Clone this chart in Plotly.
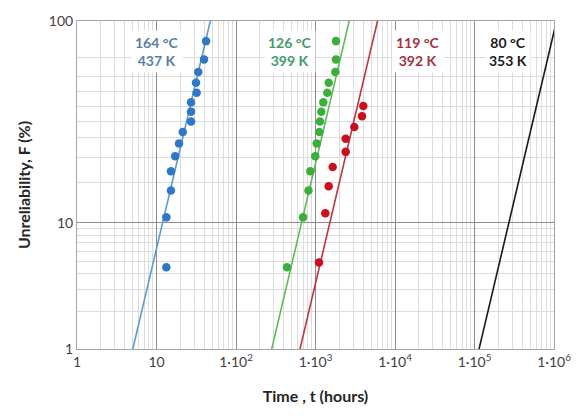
import numpy as np
import plotly.graph_objects as go

# ---- data ----
F_blue = [4.5, 11.0, 17.5, 24.0, 30.5, 37.0, 43.5, 50.0, 56.5, 63.0, 69.5, 76.0, 82.5, 89.0, 95.5]
t_blue = [13.3, 13.3, 15.2, 15.2, 17.2, 19.2, 21.4, 27.2, 27.2, 27.2, 32.0, 31.4, 33.5, 39.6, 42.0]

F_green = [4.5, 11.0, 17.5, 24.0, 30.5, 37.0, 43.5, 50.0, 56.5, 63.0, 69.5, 76.0, 82.5, 89.0, 95.5]
t_green = [438, 697, 816, 860, 994, 1036, 1117, 1140, 1183, 1253, 1407, 1467, 1774, 1811, 1811]

F_red = [4.9, 11.8, 18.8, 25.7, 32.6, 39.6, 46.5, 53.5, 60.4]
t_red = [1107, 1328, 1466, 1645, 2397, 2397, 3077, 3846, 3995]

# Weibull fit lines (shape beta, scale eta in hours)
beta_fit = [2.72, 2.72, 2.72, 2.72]
eta_fit = [27.3, 1526, 3464, 6.19e5]

labels_c = ["164 °C", "126 °C", "119 °C", "80 °C"]
labels_k = ["437 K", "399 K", "392 K", "353 K"]

x_ticks = [1, 10, 100, 1e3, 1e4, 1e5, 1e6]
x_ticktext = ["1", "10", "1·10<sup>2</sup>", "1·10<sup>3</sup>", "1·10<sup>4</sup>",
              "1·10<sup>5</sup>", "1·10<sup>6</sup>"]
y_major = [1, 10, 98.9]
y_ticktext = ["1", "10", "100"]
y_minor = [2, 3, 4, 5, 6, 7, 8, 9, 20, 30, 40, 50, 60, 70, 80, 90]

pt_colors = ["#2f78c8", "#3cae3c", "#c8101e"]
line_colors = ["#5b9bd5", "#5cba5c", "#c0343f", "#1a1a1a"]
label_colors = ["#5a7ea8", "#3f9a6c", "#a5303c", "#1a1a1a"]
label_xpix = [157, 289.5, 418, 508]


def wb(F):
    F = np.asarray(F, dtype=float) / 100.0
    return np.log(-np.log(1.0 - F))


fig = go.Figure()

# fit lines
F_line = np.array([0.5, 99.9])
for b, e, c in zip(beta_fit, eta_fit, line_colors):
    w = wb(F_line)
    t = e * np.exp(w / b)
    fig.add_trace(go.Scatter(x=t, y=w, mode="lines", line=dict(color=c, width=1.6),
                             showlegend=False, hoverinfo="skip"))

# data points
for tt, FF, c in zip([t_blue, t_green, t_red], [F_blue, F_green, F_red], pt_colors):
    fig.add_trace(go.Scatter(x=tt, y=wb(FF), mode="markers",
                             marker=dict(color=c, size=8.5, line=dict(width=0)),
                             showlegend=False))

# plot geometry
W, H = 583, 416
L, R, T, B = 77, 554, 16, 349

for txt_c, txt_k, col, xp in zip(labels_c, labels_k, label_colors, label_xpix):
    fig.add_annotation(xref="paper", yref="paper",
                       x=(xp - L) / (R - L), y=1 - (47 - T) / (B - T),
                       xanchor="center", yanchor="middle",
                       text=f"<b>{txt_c}</b><br><b>{txt_k}</b>",
                       showarrow=False, bgcolor="white", borderpad=3,
                       font=dict(family="Lato", size=14, color=col), align="center")

grid_minor = "#dcdcdc"
grid_major = "#8c8c8c"

fig.update_xaxes(type="log", range=[0, 6],
                 tickmode="array", tickvals=x_ticks, ticktext=x_ticktext,
                 showgrid=True, gridcolor=grid_major, gridwidth=1,
                 minor=dict(tickmode="array",
                            tickvals=[m * 10 ** k for k in range(6) for m in range(2, 10)],
                            showgrid=True, gridcolor=grid_minor, gridwidth=1, ticks=""),
                 showline=True, linecolor="#a6a6a6", mirror=True, zeroline=False,
                 ticks="", tickfont=dict(family="Lato", size=14, color="#404040"),
                 title=dict(text="<b>Time , t (hours)</b>", standoff=22,
                            font=dict(family="Lato", size=16, color="#262626")))

fig.update_yaxes(range=[wb(1)[()], wb(98.9)[()]],
                 tickmode="array", tickvals=list(wb(y_major)), ticktext=y_ticktext,
                 showgrid=True, gridcolor=grid_major, gridwidth=1,
                 minor=dict(tickmode="array", tickvals=list(wb(y_minor)),
                            showgrid=True, gridcolor=grid_minor, gridwidth=1, ticks=""),
                 showline=True, linecolor="#a6a6a6", mirror=True, zeroline=False,
                 ticks="", tickfont=dict(family="Lato", size=14, color="#404040"),
                 title=dict(text="<b>Unreliability, F (%)</b>", standoff=14,
                            font=dict(family="Lato", size=16, color="#262626")))

fig.update_layout(width=W, height=H,
                  margin=dict(l=L, r=W - R, t=T, b=H - B),
                  plot_bgcolor="white", paper_bgcolor="white",
                  showlegend=False)

fig.write_html("out.html")
